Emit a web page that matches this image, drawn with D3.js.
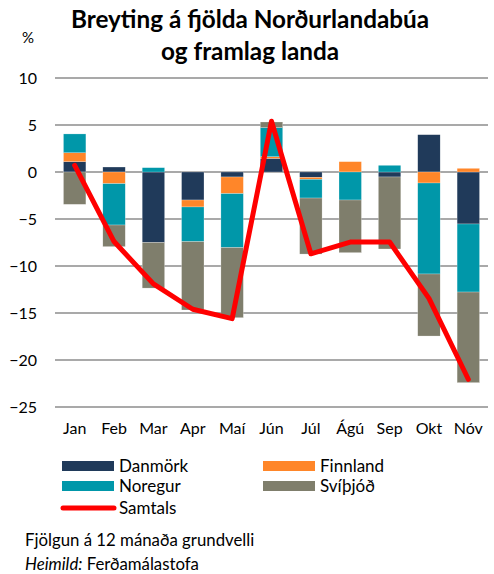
<!DOCTYPE html>
<html><head><meta charset="utf-8">
<script src="https://cdn.jsdelivr.net/npm/d3@7"></script>
<style>
body{margin:0;background:#fff;}
svg{display:block;font-family:Lato, "Open Sans", sans-serif;}
</style></head>
<body><svg id="c" width="494" height="574"></svg>
<script>
const months = ["Jan","Feb","Mar","Apr","Maí","Jún","Júl","Ágú","Sep","Okt","Nóv"];
const danmork  = [1.1, 0.53, -7.5, -2.98, -0.53, 1.45, -0.57, 0, -0.53, 3.97, -5.53];
const finnland = [0.95, -1.24, 0, -0.74, -1.77, 0.18, -0.21, 1.1, 0, -1.17, 0.39];
const noregur  = [2.0, -4.4, 0.46, -3.69, -5.74, 3.09, -1.99, -2.98, 0.71, -9.68, -7.24];
const svithjod = [-3.44, -2.3, -4.85, -7.27, -7.46, 0.6, -5.96, -5.6, -7.66, -6.6, -9.64];
const samtals  = [0.7, -7.4, -11.9, -14.6, -15.6, 5.4, -8.7, -7.45, -7.45, -13.45, -22.05];
const yTicks = [10, 5, 0, -5, -10, -15, -20, -25];
const seriesNames = ["Danmörk","Finnland","Noregur","Svíþjóð"];
const colors = {"Danmörk":"#203a5a","Finnland":"#ff8629","Noregur":"#0097a9","Svíþjóð":"#7f7e6c"};

const svg = d3.select("#c");
const x = d3.scaleBand().domain(months).range([55, 488]).paddingInner(0.43).paddingOuter(0.215);
const y = d3.scaleLinear().domain([-25, 10]).range([407, 78]);

// title
svg.append("text").attr("x", 250).attr("y", 28).attr("text-anchor","middle")
  .attr("font-size", 24.3).attr("font-weight","bold").text("Breyting á fjölda Norðurlandabúa");
svg.append("text").attr("x", 250).attr("y", 60).attr("text-anchor","middle")
  .attr("font-size", 24.3).attr("font-weight","bold").text("og framlag landa");
svg.append("text").attr("x", 22).attr("y", 43).attr("font-size", 15).text("%");

// gridlines
svg.append("g").selectAll("line").data(yTicks).join("line")
  .attr("x1", 55).attr("x2", 488).attr("y1", d=>y(d)).attr("y2", d=>y(d))
  .attr("stroke", "#8c8c8c").attr("stroke-width", 1.5);

// y axis labels
const yAxis = d3.axisLeft(y).tickValues(yTicks).tickSize(0).tickPadding(0);
const gy = svg.append("g").attr("transform","translate(37,0)").call(yAxis);
gy.select(".domain").remove();
gy.selectAll("text").attr("font-size", 16).attr("font-family","Lato, sans-serif").attr("fill","#000");

// x axis labels
const xAxis = d3.axisBottom(x).tickSize(0).tickPadding(0);
const gx = svg.append("g").attr("transform","translate(0,423)").call(xAxis);
gx.select(".domain").remove();
gx.selectAll("text").attr("font-size", 16).attr("font-family","Lato, sans-serif").attr("fill","#000");

// stacked bars
const table = months.map((m,i)=>({month:m, "Danmörk":danmork[i], "Finnland":finnland[i], "Noregur":noregur[i], "Svíþjóð":svithjod[i]}));
const stack = d3.stack().keys(seriesNames).offset(d3.stackOffsetDiverging);
const layers = stack(table);
svg.append("g").selectAll("g").data(layers).join("g")
  .attr("fill", d=>colors[d.key])
  .selectAll("rect").data(d=>d).join("rect")
  .attr("x", d=>x(d.data.month)).attr("width", x.bandwidth())
  .attr("y", d=>y(Math.max(d[0],d[1])))
  .attr("height", d=>Math.abs(y(d[0])-y(d[1])))
  .attr("stroke","#ffffff").attr("stroke-width",0.4).attr("stroke-opacity",0.6);

// total line
const line = d3.line().x((d,i)=>x(months[i])+x.bandwidth()/2).y(d=>y(d));
svg.append("path").datum(samtals).attr("d", line).attr("fill","none")
  .attr("stroke","#ff0000").attr("stroke-width",5).attr("stroke-linejoin","round").attr("stroke-linecap","round");

// legend
const leg = [
  {name:"Danmörk", x:62, y:466},
  {name:"Finnland", x:263, y:466},
  {name:"Noregur", x:62, y:486},
  {name:"Svíþjóð", x:263, y:486}
];
const lg = svg.append("g");
leg.forEach(l=>{
  lg.append("rect").attr("x", l.x).attr("y", l.y-5).attr("width", 52).attr("height", 10).attr("fill", colors[l.name]);
  lg.append("text").attr("x", l.x+57).attr("y", l.y+6).attr("font-size", 17).text(l.name);
});
lg.append("line").attr("x1", 63).attr("x2", 114).attr("y1", 508).attr("y2", 508)
  .attr("stroke","#ff0000").attr("stroke-width",5).attr("stroke-linecap","round");
lg.append("text").attr("x", 119).attr("y", 514).attr("font-size", 17).text("Samtals");

// footnotes
svg.append("text").attr("x", 25).attr("y", 546).attr("font-size", 16.8).text("Fjölgun á 12 mánaða grundvelli");
const f2 = svg.append("text").attr("x", 25).attr("y", 570).attr("font-size", 16.8);
f2.append("tspan").attr("font-style","italic").text("Heimild:");
f2.append("tspan").text(" Ferðamálastofa");
</script></body></html>
